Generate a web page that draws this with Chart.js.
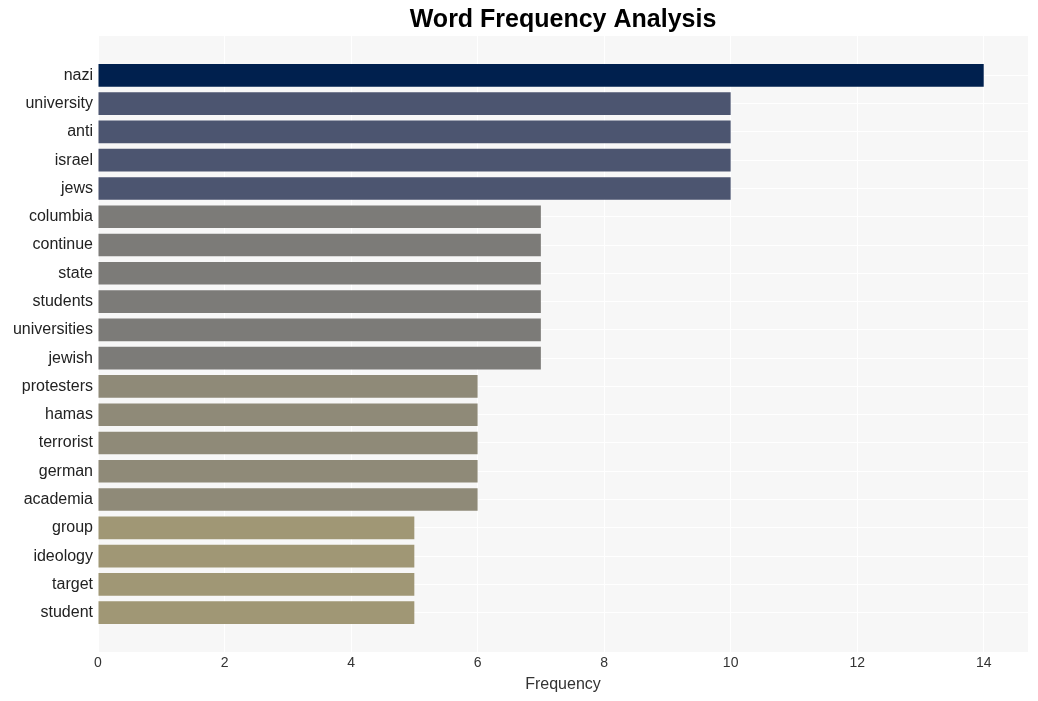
<!DOCTYPE html>
<html>
<head>
<meta charset="utf-8">
<script src="https://cdn.jsdelivr.net/npm/chart.js@4"></script>
<style>
  html, body { margin: 0; padding: 0; background: #fff; }
  #wrap { width: 1038px; height: 701px; }
</style>
</head>
<body>
<div id="wrap"><canvas id="myChart" width="1038" height="701"></canvas></div>
<script>
var words = ['nazi', 'university', 'anti', 'israel', 'jews', 'columbia', 'continue', 'state',
  'students', 'universities', 'jewish', 'protesters', 'hamas', 'terrorist', 'german',
  'academia', 'group', 'ideology', 'target', 'student'];
var counts = [14, 10, 10, 10, 10, 7, 7, 7, 7, 7, 7, 6, 6, 6, 6, 6, 5, 5, 5, 5];
var xTicks = [0, 2, 4, 6, 8, 10, 12, 14];
var titleText = 'Word Frequency Analysis';

// colour per count value
var palette = { 14: '#00204e', 10: '#4c5570', 7: '#7c7b78', 6: '#8f8a78', 5: '#a09775' };

var points = counts.map(function(c, i) { return { x: c, y: i }; });

var font = "'Liberation Sans', Arial, sans-serif";

var bgPlugin = {
  id: 'bg',
  beforeDraw: function(chart) {
    var a = chart.chartArea, ctx = chart.ctx;
    ctx.save();
    ctx.fillStyle = '#f7f7f7';
    ctx.fillRect(a.left, a.top, a.right - a.left, a.bottom - a.top);
    ctx.restore();
  },
  afterDraw: function(chart) {
    // title centred over the plot area, like the original
    var a = chart.chartArea, ctx = chart.ctx;
    ctx.save();
    ctx.fillStyle = '#000';
    ctx.font = 'bold 25px ' + font;
    ctx.textAlign = 'center';
    ctx.textBaseline = 'middle';
    ctx.fillText(titleText, (a.left + a.right) / 2, 20);
    ctx.restore();
  }
};

new Chart(document.getElementById('myChart'), {
  type: 'bar',
  data: {
    datasets: [{
      data: points,
      backgroundColor: counts.map(function(c) { return palette[c]; }),
      borderWidth: 0,
      barPercentage: 0.8,
      categoryPercentage: 1
    }]
  },
  options: {
    indexAxis: 'y',
    responsive: false,
    animation: false,
    layout: { padding: { left: 0, right: 10, top: 36, bottom: 0 } },
    plugins: {
      legend: { display: false },
      tooltip: { enabled: false },
      title: { display: false }
    },
    scales: {
      x: {
        type: 'linear',
        min: 0,
        max: 14.7,
        afterBuildTicks: function(s) { s.ticks = xTicks.map(function(v) { return { value: v }; }); },
        ticks: { color: '#333', font: { family: font, size: 14 }, padding: 3 },
        grid: { color: '#ffffff', lineWidth: 1, drawTicks: false },
        border: { display: false },
        title: { display: true, text: 'Frequency', color: '#333', font: { family: font, size: 16 }, padding: { top: 2, bottom: 7 } },
        afterFit: function(s) { s.height = 49; }
      },
      y: {
        type: 'linear',
        reverse: true,
        offset: false,
        min: -1.39,
        max: 20.39,
        afterBuildTicks: function(s) { s.ticks = words.map(function(w, i) { return { value: i }; }); },
        ticks: {
          color: '#222',
          font: { family: font, size: 16 },
          padding: 5,
          autoSkip: false,
          callback: function(v) { return words[v]; }
        },
        grid: { color: '#ffffff', lineWidth: 1, drawTicks: false, offset: false },
        border: { display: false },
        afterFit: function(s) { s.width = 98; }
      }
    }
  },
  plugins: [bgPlugin]
});
</script>
</body>
</html>
